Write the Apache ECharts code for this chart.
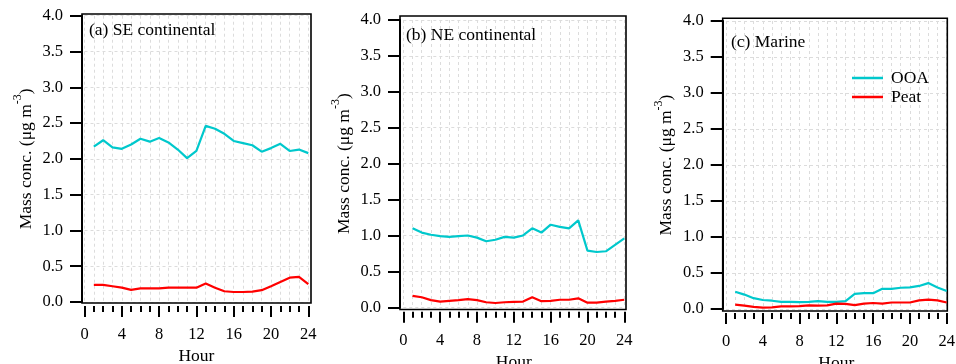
<!DOCTYPE html>
<html>
<head>
<meta charset="utf-8">
<script src="https://cdn.jsdelivr.net/npm/echarts@6/dist/echarts.min.js"></script>
<style>
html,body{margin:0;padding:0;background:#fff;}
#c{width:956px;height:364px;}
</style>
</head>
<body>
<div id="c"></div>
<script>
const hours = [1,2,3,4,5,6,7,8,9,10,11,12,13,14,15,16,17,18,19,20,21,22,23,24];
const xTicks = [0,4,8,12,16,20,24];
const yTicks = [0.0,0.5,1.0,1.5,2.0,2.5,3.0,3.5,4.0];
const panelTitles = ['(a) SE continental','(b) NE continental','(c) Marine'];
const seriesNames = ['OOA','Peat'];

const seOOA  = [2.17,2.26,2.16,2.14,2.20,2.28,2.24,2.29,2.23,2.13,2.01,2.11,2.46,2.42,2.35,2.25,2.22,2.19,2.10,2.15,2.21,2.11,2.13,2.08];
const sePeat = [0.24,0.24,0.22,0.20,0.17,0.19,0.19,0.19,0.20,0.20,0.20,0.20,0.26,0.20,0.15,0.14,0.14,0.145,0.165,0.22,0.28,0.34,0.35,0.25];
const neOOA  = [1.10,1.04,1.01,0.99,0.98,0.99,1.00,0.97,0.92,0.94,0.98,0.97,1.00,1.10,1.04,1.15,1.12,1.10,1.21,0.79,0.77,0.78,0.87,0.96];
const nePeat = [0.16,0.14,0.10,0.08,0.09,0.10,0.115,0.10,0.07,0.06,0.07,0.075,0.08,0.14,0.085,0.09,0.105,0.105,0.125,0.065,0.065,0.08,0.09,0.105];
const maOOA  = [0.24,0.20,0.15,0.125,0.115,0.10,0.10,0.095,0.10,0.11,0.10,0.10,0.11,0.21,0.22,0.22,0.28,0.28,0.295,0.30,0.32,0.36,0.30,0.25];
const maPeat = [0.06,0.046,0.03,0.02,0.022,0.037,0.037,0.04,0.05,0.046,0.05,0.075,0.07,0.055,0.075,0.083,0.075,0.09,0.09,0.09,0.12,0.13,0.12,0.09];

const panelData = [[seOOA, sePeat],[neOOA, nePeat],[maOOA, maPeat]];
const colors = ['#00c8cc','#ff0000'];
const FONT = 'Liberation Serif';
const TXT = 17.5, TICK = 16.5;

const layout = [
  {frame:{left:82, top:14, width:229, height:289}, data:{left:84.5, top:15.7, width:223.8, height:286.3}, yOff:2.5, xOff:4, title:{left:89, top:21}},
  {frame:{left:400, top:16, width:226, height:293.5}, data:{left:403.3, top:20, width:221, height:287.3}, yOff:3.3, xOff:4.4, title:{left:406, top:26}},
  {frame:{left:722.7, top:18.3, width:224.6, height:292.7}, data:{left:726, top:21, width:220.7, height:288}, yOff:3.3, xOff:4, title:{left:731, top:33}}
];

const grids = [], xAxes = [], yAxes = [], series = [], titles = [];
const dash = {color:'#dcdcdc', type:[3,3], width:1};

layout.forEach((L, p) => {
  const fi = grids.length;
  grids.push(Object.assign({show:true, borderColor:'#000', borderWidth:1.6, backgroundColor:'transparent', z:1, outerBoundsMode:'none', containLabel:false}, L.frame));
  xAxes.push({gridIndex:fi, type:'value', min:0, max:1, show:false});
  yAxes.push({gridIndex:fi, type:'value', min:0, max:1, show:false});
  const di = grids.length;
  grids.push(Object.assign({show:false, outerBoundsMode:'none', containLabel:false}, L.data));
  xAxes.push({
    gridIndex:di, type:'value', position:'bottom', min:xTicks[0], max:xTicks[xTicks.length-1], interval:4, offset:L.xOff,
    axisLine:{show:true, onZero:false, lineStyle:{color:'rgba(0,0,0,0)', width:0}},
    axisTick:{show:true, inside:false, length:11, lineStyle:{color:'#000', width:2}},
    minorTick:{show:true, splitNumber:4, length:6, lineStyle:{color:'#000', width:2}},
    splitLine:{show:true, lineStyle:dash},
    minorSplitLine:{show:true, lineStyle:dash},
    axisLabel:{color:'#000', fontFamily:FONT, fontSize:TICK, margin:20},
    name:'Hour', nameLocation:'middle', nameGap:35,
    nameTextStyle:{color:'#000', fontFamily:FONT, fontSize:TXT}
  });
  yAxes.push({
    gridIndex:di, type:'value', min:yTicks[0], max:yTicks[yTicks.length-1], interval:0.5, offset:L.yOff,
    axisLine:{show:true, onZero:false, lineStyle:{color:'#000', width:2}},
    axisTick:{show:true, length:12, lineStyle:{color:'#000', width:2}},
    splitLine:{show:true, lineStyle:dash},
    axisLabel:{color:'#000', fontFamily:FONT, fontSize:TICK, margin:19, formatter:v=>v.toFixed(1)},
    name:'{t|Mass conc. (μg m}{s|-3}{t|)}', nameLocation:'middle', nameGap:47,
    nameTextStyle:{rich:{
      t:{color:'#000', fontFamily:FONT, fontSize:TXT, lineHeight:23, verticalAlign:'bottom'},
      s:{color:'#000', fontFamily:FONT, fontSize:12, lineHeight:23, verticalAlign:'top'}
    }}
  });
  panelData[p].forEach((vals, k) => {
    series.push({
      type:'line', name:seriesNames[k], xAxisIndex:di, yAxisIndex:di,
      data:hours.map((h,i)=>[h, vals[i]]),
      showSymbol:false, symbol:'none', silent:true,
      lineStyle:{color:colors[k], width:2.2}, itemStyle:{color:colors[k]},
      z:3
    });
  });
  titles.push({text:panelTitles[p], left:L.title.left, top:L.title.top, padding:0,
    textStyle:{color:'#000', fontFamily:FONT, fontSize:TXT, fontWeight:'normal'}});
});

const chart = echarts.init(document.getElementById('c'), null, {renderer:'canvas'});
chart.setOption({
  animation:false,
  backgroundColor:'#fff',
  title:titles,
  grid:grids, xAxis:xAxes, yAxis:yAxes, series:series,
  legend:{
    data:seriesNames, orient:'vertical', left:852, top:69, padding:0,
    icon:'rect', itemWidth:31, itemHeight:2.5, itemGap:1,
    textStyle:{color:'#000', fontFamily:FONT, fontSize:TXT, lineHeight:18, padding:[0,0,0,3]}
  }
});
</script>
</body>
</html>
